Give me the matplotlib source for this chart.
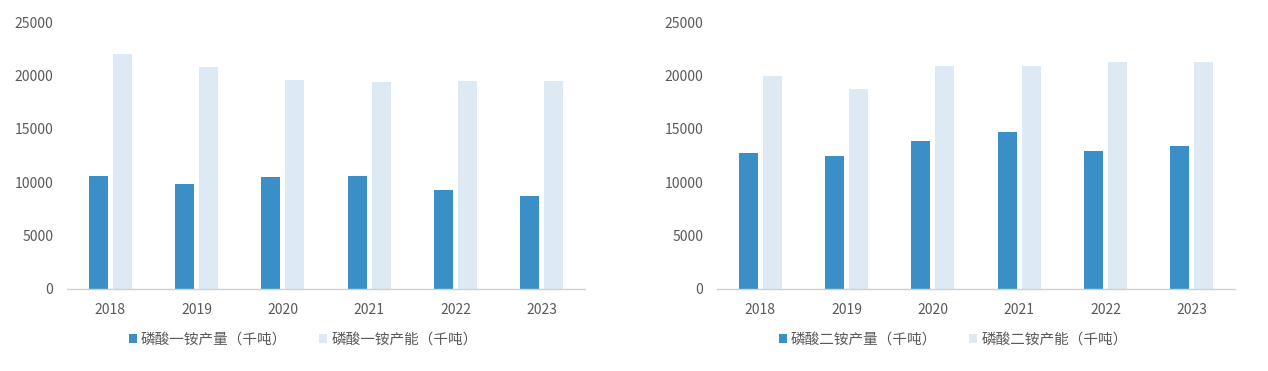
import matplotlib.pyplot as plt
import numpy as np

plt.rcParams['font.family'] = ['Noto Sans CJK SC', 'DejaVu Sans']

years = ['2018', '2019', '2020', '2021', '2022', '2023']

map_output = [10600, 9790, 10510, 10600, 9250, 8750]
map_capacity = [21990, 20800, 19540, 19390, 19450, 19450]

dap_output = [12720, 12440, 13820, 14660, 12940, 13410]
dap_capacity = [19990, 18730, 20900, 20900, 21210, 21210]

panels = [
    (map_output, map_capacity, '磷酸一铵产量（千吨）', '磷酸一铵产能（千吨）'),
    (dap_output, dap_capacity, '磷酸二铵产量（千吨）', '磷酸二铵产能（千吨）'),
]

dark = '#3a8fc6'
light = '#dde9f4'
text_col = '#595959'

fig = plt.figure(figsize=(12.68, 3.71), dpi=100)
lefts = [67 / 1268, 717 / 1268]

x = np.arange(len(years))
w = 0.22
off = 0.14

for left, (prod, cap, lab1, lab2) in zip(lefts, panels):
    ax = fig.add_axes([left, 1 - 289 / 371, 518 / 1268, 267 / 371])
    ax.bar(x - off, prod, width=w, color=dark, label=lab1)
    ax.bar(x + off, cap, width=w, color=light, label=lab2)
    ax.set_xlim(-0.5, 5.5)
    ax.set_ylim(0, 25000)
    ax.set_yticks(range(0, 25001, 5000))
    ax.set_xticks(x)
    ax.set_xticklabels(years)
    for s in ['top', 'right', 'left']:
        ax.spines[s].set_visible(False)
    ax.spines['bottom'].set_color('#d0d0d0')
    ax.spines['bottom'].set_linewidth(1.0)
    ax.tick_params(axis='both', length=0, labelsize=10, colors=text_col, pad=10)
    ax.legend(loc='center', bbox_to_anchor=(0.456, -0.19), ncol=2, frameon=False,
              fontsize=10.5, labelcolor=text_col, handlelength=0.55, handleheight=0.55,
              handletextpad=0.3, columnspacing=2.2)

fig.savefig('out.png', dpi=100)
